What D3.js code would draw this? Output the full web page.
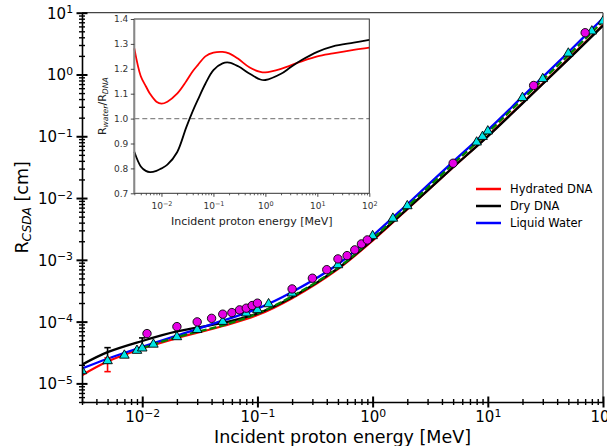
<!DOCTYPE html>
<html>
<head>
<meta charset="utf-8">
<script src="https://cdn.jsdelivr.net/npm/d3@7"></script>
<style>
  body { margin: 0; background: #fff; }
  svg { display: block; font-family: "DejaVu Sans", sans-serif; }
</style>
</head>
<body>
<div id="chart"></div>
<script>
// main panel: CSDA range vs energy
const energy = [0.003, 0.005, 0.01, 0.02, 0.05, 0.1, 0.2, 0.5, 1, 2, 5, 10, 20, 50, 100];
const hydratedDNA = [1.36e-5, 2.26e-5, 3.67e-5, 5.42e-5, 8.49e-5, 1.28e-4, 2.4e-4, 7.1e-4, 2.05e-3, 6.61e-3, 0.0315, 0.101, 0.346, 1.79, 6.32];
const dryDNA = [2.01e-5, 3.2e-5, 4.86e-5, 6.93e-5, 9.51e-5, 1.35e-4, 2.48e-4, 7.28e-4, 2.11e-3, 6.7e-3, 0.0315, 0.0995, 0.34, 1.76, 6.18];
const liquidWater = [1.74e-5, 2.51e-5, 3.89e-5, 5.96e-5, 1.035e-4, 1.62e-4, 3.02e-4, 8.5e-4, 2.45e-3, 7.94e-3, 0.0389, 0.126, 0.437, 2.29, 8.13];
const greenEnergy = [0.01, 0.02, 0.05, 0.1, 0.2, 0.5, 1, 2, 5, 10, 20, 50, 100];
const greenRange = [3.72e-5, 5.62e-5, 8.71e-5, 1.35e-4, 2.57e-4, 7.41e-4, 2.21e-3, 7.24e-3, 0.0355, 0.115, 0.398, 2.04, 7.24];

// reference points (triangles) and measurements (circles)
const triE = [0.003, 0.005, 0.007, 0.009, 0.01, 0.0125, 0.02, 0.03, 0.05, 0.08, 0.1, 0.125, 0.2, 0.5, 1, 1.5, 2, 8, 9, 10, 20, 30, 50, 80, 100];
const triR = [1.59e-5, 2.31e-5, 2.84e-5, 3.4e-5, 3.71e-5, 4.28e-5, 5.65e-5, 7.4e-5, 1.0e-4, 1.37e-4, 1.55e-4, 1.93e-4, 2.88e-4, 8.26e-4, 2.44e-3, 4.68e-3, 7.45e-3, 0.08, 0.0986, 0.121, 0.42, 0.851, 2.2, 5.02, 7.28];
const circE = [0.011, 0.02, 0.03, 0.04, 0.05, 0.06, 0.07, 0.08, 0.09, 0.1, 0.2, 0.3, 0.4, 0.5, 0.6, 0.7, 0.8, 0.9, 5, 25, 70];
const circR = [6.4e-5, 8.3e-5, 9.9e-5, 1.13e-4, 1.32e-4, 1.4e-4, 1.55e-4, 1.65e-4, 1.82e-4, 1.99e-4, 3.38e-4, 5.04e-4, 6.93e-4, 1.035e-3, 1.17e-3, 1.45e-3, 1.81e-3, 2.1e-3, 0.0366, 0.664, 4.74];

// error bars: [energy, low, high]
const dryErr = [[0.005, 2.15e-5, 3.79e-5], [0.01, 3.48e-5, 5.45e-5]];
const hydratedErr = [[0.005, 1.55e-5, 2.59e-5]];

// inset: ratio R_water / R_DNA
const ratioEnergy = [0.003, 0.004, 0.005, 0.006, 0.008, 0.01, 0.013, 0.02, 0.03, 0.04, 0.05, 0.07, 0.1, 0.15, 0.2, 0.3, 0.5, 0.8, 1, 2, 3, 5, 10, 20, 50, 100];
const hydratedRatio = [1.282, 1.17, 1.13, 1.1, 1.068, 1.06, 1.068, 1.1, 1.15, 1.19, 1.215, 1.25, 1.265, 1.268, 1.262, 1.24, 1.205, 1.188, 1.186, 1.2, 1.213, 1.23, 1.25, 1.262, 1.276, 1.285];
const dryRatio = [0.867, 0.808, 0.79, 0.785, 0.79, 0.8, 0.815, 0.865, 0.965, 1.03, 1.075, 1.14, 1.195, 1.222, 1.225, 1.21, 1.18, 1.157, 1.155, 1.18, 1.205, 1.235, 1.268, 1.29, 1.305, 1.316];

const legendItems = [["Hydrated DNA", "#ff0000"], ["Dry DNA", "#000000"], ["Liquid Water", "#0000ff"]];

const W = 607, H = 446;
const M = { left: 82, right: 603, top: 12.7, bottom: 402 };
const I = { left: 134.3, right: 369.3, top: 19, bottom: 193.3 };

const svg = d3.select("#chart").append("svg").attr("width", W).attr("height", H);

const x = d3.scaleLog().domain([0.003, 100]).range([M.left, M.right]);
const y = d3.scaleLog().domain([5e-6, 10]).range([M.bottom, M.top]);

function minors(lo, hi) {
  const out = [];
  for (let p = Math.floor(Math.log10(lo)); p <= Math.ceil(Math.log10(hi)); p++) {
    for (let m = 2; m <= 9; m++) {
      const v = m * Math.pow(10, p);
      if (v >= lo * 0.999 && v <= hi * 1.001) out.push(v);
    }
  }
  return out;
}
function pow10(sel, k) {
  sel.text(null);
  sel.append("tspan").text("10");
  sel.append("tspan").attr("dy", "-0.5em").attr("font-size", "0.72em").text(k < 0 ? "\u2212" + (-k) : String(k));
}

svg.append("defs").append("clipPath").attr("id", "clipMain")
  .append("rect").attr("x", M.left).attr("y", M.top).attr("width", M.right - M.left).attr("height", M.bottom - M.top);

// spines top/right
svg.append("line").attr("x1", M.left).attr("x2", M.right).attr("y1", M.top).attr("y2", M.top).attr("stroke", "#444").attr("stroke-width", 1.2);
svg.append("line").attr("x1", M.right).attr("x2", M.right).attr("y1", M.top).attr("y2", M.bottom).attr("stroke", "#444").attr("stroke-width", 1.2);

// curves
const plot = svg.append("g").attr("clip-path", "url(#clipMain)");
const line = d3.line().x((d) => x(d[0])).y((d) => y(d[1])).curve(d3.curveCatmullRom.alpha(0.5));
const series = [
  [hydratedDNA, "#ff0000"],
  [dryDNA, "#000000"],
  [liquidWater, "#0000ff"],
];
series.forEach(([vals, col]) => {
  plot.append("path").datum(energy.map((e, i) => [e, vals[i]]))
    .attr("d", line).attr("fill", "none").attr("stroke", col).attr("stroke-width", 2.3);
});
plot.append("path").datum(greenEnergy.map((e, i) => [e, greenRange[i]]))
  .attr("d", line).attr("fill", "none").attr("stroke", "#008000").attr("stroke-width", 2.3)
  .attr("stroke-dasharray", "7,3");

// error bars
function errBars(data, col) {
  data.forEach(([e, lo, hi]) => {
    const g = plot.append("g").attr("stroke", col).attr("stroke-width", 1.6);
    g.append("line").attr("x1", x(e)).attr("x2", x(e)).attr("y1", y(lo)).attr("y2", y(hi));
    g.append("line").attr("x1", x(e) - 3.2).attr("x2", x(e) + 3.2).attr("y1", y(lo)).attr("y2", y(lo));
    g.append("line").attr("x1", x(e) - 3.2).attr("x2", x(e) + 3.2).attr("y1", y(hi)).attr("y2", y(hi));
  });
}
errBars(dryErr, "#000000");
errBars(hydratedErr, "#ff0000");

// markers
const tri = d3.symbol().type(d3.symbolTriangle).size(40);
plot.selectAll("path.tri").data(triE.map((e, i) => [e, triR[i]])).join("path")
  .attr("class", "tri").attr("d", tri)
  .attr("transform", (d) => `translate(${x(d[0])},${y(d[1])})`)
  .attr("fill", "#00e5e5").attr("stroke", "#000").attr("stroke-width", 0.9);
plot.selectAll("circle.meas").data(circE.map((e, i) => [e, circR[i]])).join("circle")
  .attr("class", "meas").attr("cx", (d) => x(d[0])).attr("cy", (d) => y(d[1])).attr("r", 4.2)
  .attr("fill", "#e600e6").attr("stroke", "#000").attr("stroke-width", 0.9);

// axes
const majorX = [0.01, 0.1, 1, 10, 100];
const majorY = [1e-5, 1e-4, 1e-3, 1e-2, 1e-1, 1, 10];

const gx = svg.append("g").attr("transform", `translate(0,${M.bottom})`);
gx.append("g").call(d3.axisBottom(x).tickValues(minors(0.003, 100)).tickSize(3).tickSizeOuter(0).tickFormat(""))
  .call((g) => g.selectAll(".tick line").attr("y1", -3).attr("y2", 3).attr("stroke-width", 1.4))
  .call((g) => g.select(".domain").remove());
gx.append("g").call(d3.axisBottom(x).tickValues(majorX).tickSize(5.5).tickSizeOuter(0))
  .call((g) => g.selectAll(".tick line").attr("y1", -5.5).attr("y2", 5.5).attr("stroke-width", 2))
  .call((g) => g.select(".domain").attr("stroke-width", 1.6))
  .call((g) => g.selectAll(".tick text").attr("y", 20).attr("dy", 0).attr("font-size", 15).attr("fill", "#000")
    .attr("font-family", "DejaVu Sans")
    .each(function (d) { pow10(d3.select(this), Math.round(Math.log10(d))); }));

const gy = svg.append("g").attr("transform", `translate(${M.left},0)`);
gy.append("g").call(d3.axisLeft(y).tickValues(minors(5e-6, 10)).tickSize(3).tickSizeOuter(0).tickFormat(""))
  .call((g) => g.selectAll(".tick line").attr("x1", 3).attr("x2", -3).attr("stroke-width", 1.4))
  .call((g) => g.select(".domain").remove());
gy.append("g").call(d3.axisLeft(y).tickValues(majorY).tickSize(5.5).tickSizeOuter(0))
  .call((g) => g.selectAll(".tick line").attr("x1", 5.5).attr("x2", -5.5).attr("stroke-width", 2))
  .call((g) => g.select(".domain").attr("stroke-width", 1.6))
  .call((g) => g.selectAll(".tick text").attr("x", -9).attr("dy", "0.36em").attr("font-size", 15).attr("fill", "#000")
    .attr("font-family", "DejaVu Sans")
    .each(function (d) { pow10(d3.select(this), Math.round(Math.log10(d))); }));

// axis titles
svg.append("text").attr("x", (M.left + M.right) / 2).attr("y", 443).attr("text-anchor", "middle")
  .attr("font-size", 17.5).text("Incident proton energy [MeV]");
const yl = svg.append("text").attr("transform", `translate(28,${(M.top + M.bottom) / 2}) rotate(-90)`)
  .attr("text-anchor", "middle").attr("font-size", 17.5);
yl.append("tspan").text("R");
yl.append("tspan").attr("font-style", "italic").attr("font-size", "0.7em").attr("dy", "0.25em").text("CSDA");
yl.append("tspan").attr("dy", "-0.18em").text(" [cm]");

// legend
const lg = svg.append("g").attr("transform", "translate(476,189)");
legendItems.forEach(([name, col], i) => {
  lg.append("line").attr("x1", 0).attr("x2", 25).attr("y1", i * 17).attr("y2", i * 17)
    .attr("stroke", col).attr("stroke-width", 2.5);
  lg.append("text").attr("x", 34).attr("y", i * 17).attr("dy", "0.36em").attr("font-size", 11.5).text(name);
});

// inset
const xi = d3.scaleLog().domain([0.003, 100]).range([I.left, I.right]);
const yi = d3.scaleLinear().domain([0.7, 1.4]).range([I.bottom, I.top]);
const inset = svg.append("g");
inset.append("rect").attr("x", I.left).attr("y", I.top).attr("width", I.right - I.left).attr("height", I.bottom - I.top)
  .attr("fill", "#fff");
inset.append("line").attr("x1", I.left).attr("x2", I.right).attr("y1", yi(1)).attr("y2", yi(1))
  .attr("stroke", "#888").attr("stroke-width", 1.2).attr("stroke-dasharray", "5,3");
const iline = d3.line().x((d) => xi(d[0])).y((d) => yi(d[1])).curve(d3.curveCatmullRom.alpha(0.5));
inset.append("path").datum(ratioEnergy.map((e, i) => [e, hydratedRatio[i]]))
  .attr("d", iline).attr("fill", "none").attr("stroke", "#ff0000").attr("stroke-width", 1.8);
inset.append("path").datum(ratioEnergy.map((e, i) => [e, dryRatio[i]]))
  .attr("d", iline).attr("fill", "none").attr("stroke", "#000").attr("stroke-width", 1.8);
// inset spines
inset.append("rect").attr("x", I.left).attr("y", I.top).attr("width", I.right - I.left).attr("height", I.bottom - I.top)
  .attr("fill", "none").attr("stroke", "#333").attr("stroke-width", 1);
inset.append("line").attr("x1", I.left).attr("x2", I.left).attr("y1", I.top).attr("y2", I.bottom)
  .attr("stroke", "#888").attr("stroke-width", 2);

const gix = inset.append("g").attr("transform", `translate(0,${I.bottom})`);
gix.append("g").call(d3.axisBottom(xi).tickValues(minors(0.003, 100)).tickSize(2).tickSizeOuter(0).tickFormat(""))
  .call((g) => g.select(".domain").remove())
  .call((g) => g.selectAll(".tick line").attr("stroke", "#333").attr("stroke-width", 0.8));
gix.append("g").call(d3.axisBottom(xi).tickValues(majorX).tickSize(3.5).tickSizeOuter(0))
  .call((g) => g.select(".domain").remove())
  .call((g) => g.selectAll(".tick line").attr("stroke", "#333").attr("stroke-width", 0.9))
  .call((g) => g.selectAll(".tick text").attr("y", 15.5).attr("dy", 0).attr("font-size", 9).attr("fill", "#333")
    .attr("font-family", "DejaVu Sans")
    .each(function (d) { pow10(d3.select(this), Math.round(Math.log10(d))); }));
const giy = inset.append("g").attr("transform", `translate(${I.left},0)`);
giy.append("g").call(d3.axisLeft(yi).tickValues(d3.range(0.7, 1.401, 0.1)).tickSize(3.5).tickSizeOuter(0).tickFormat(d3.format(".1f")))
  .call((g) => g.select(".domain").remove())
  .call((g) => g.selectAll(".tick line").attr("stroke", "#333").attr("stroke-width", 0.9))
  .call((g) => g.selectAll(".tick text").attr("x", -6).attr("font-size", 9).attr("fill", "#333").attr("font-family", "DejaVu Sans"));

inset.append("text").attr("x", (I.left + I.right) / 2).attr("y", 224.5).attr("text-anchor", "middle")
  .attr("font-size", 11).attr("fill", "#222").text("Incident proton energy [MeV]");
const iyl = inset.append("text").attr("transform", `translate(106,${(I.top + I.bottom) / 2}) rotate(-90)`)
  .attr("text-anchor", "middle").attr("font-size", 11).attr("fill", "#222");
iyl.append("tspan").text("R");
iyl.append("tspan").attr("font-style", "italic").attr("font-size", "0.7em").attr("dy", "0.25em").text("water");
iyl.append("tspan").attr("dy", "-0.18em").text("/R");
iyl.append("tspan").attr("font-style", "italic").attr("font-size", "0.7em").attr("dy", "0.25em").text("DNA");
</script>
</body>
</html>
